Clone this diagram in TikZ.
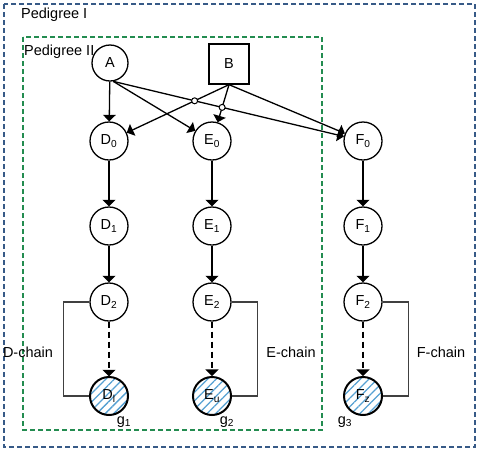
\documentclass[tikz,border=0pt]{standalone}
\usepackage{fontspec}
\setmainfont{Liberation Sans}
\usetikzlibrary{arrows,patterns.meta,intersections}
\definecolor{rahmenblau}{RGB}{55,90,135}
\definecolor{rahmengruen}{RGB}{35,140,80}
\definecolor{schraffur}{RGB}{85,160,210}
\tikzstyle{knoten}=[circle,draw,line width=1.3pt,minimum size=38pt,inner sep=0pt]
\tikzstyle{endknoten}=[knoten,line width=2pt,pattern={Lines[angle=45,distance=6pt,line width=1.3pt]},pattern color=schraffur]
\tikzstyle{pfeil}=[-triangle 90,line width=1.3pt]
\tikzstyle{strichpfeil}=[pfeil,dash pattern=on 6pt off 4pt]
\tikzstyle{klammer}=[line width=1.3pt,draw=black!75]
\tikzstyle{rahmen}=[line width=1.4pt,dash pattern=on 5pt off 3pt]

\begin{document}
\begin{tikzpicture}[x=1pt,y=-1pt,font=\fontsize{14.5}{17}\selectfont]
			\useasboundingbox (0,0) rectangle (478,451);
			% Rahmen zeichnen
			\draw[rahmen,draw=rahmenblau] (4,4) rectangle (475,447);
			\draw[rahmen,draw=rahmengruen] (23,37) rectangle (322,430);
			\node[anchor=west,inner sep=0] (ped1) at (21,15) {Pedigree I};
			\node[anchor=west,inner sep=0] (ped2) at (24,52) {Pedigree II};
			% Eltern zeichnen
			\node[knoten,minimum size=36pt,fill=white] (A) at (110,63) {A};
			\node[draw,line width=1.3pt,minimum size=40pt,inner sep=0] (B) at (229,64) {B};
			% Ketten zeichnen
			\node[knoten] (D0) at (109,141) {D\textsubscript{0}};
			\node[knoten] (E0) at (212,141) {E\textsubscript{0}};
			\node[knoten] (F0) at (363,141) {F\textsubscript{0}};
			\node[knoten] (D1) at (109,226) {D\textsubscript{1}};
			\node[knoten] (E1) at (212,226) {E\textsubscript{1}};
			\node[knoten] (F1) at (363,226) {F\textsubscript{1}};
			\node[knoten] (D2) at (109,302) {D\textsubscript{2}};
			\node[knoten] (E2) at (212,302) {E\textsubscript{2}};
			\node[knoten] (F2) at (363,302) {F\textsubscript{2}};
			\node[endknoten] (Dl) at (109,396) {D\textsubscript{l}};
			\node[endknoten] (Eu) at (212,396) {E\textsubscript{u}};
			\node[endknoten] (Fz) at (363,396) {F\textsubscript{z}};
			% Pfeile von A und B
			\draw[pfeil] (A) -- (D0);
			\draw[pfeil] (A.-80) -- (E0);
			\draw[pfeil,name path=aF] (A.-80) -- (F0);
			\draw[pfeil,name path=bD] (B.south) -- (D0);
			\draw[pfeil,name path=bE] (B.south) -- (E0);
			\draw[pfeil] (B.south) -- (F0);
			% Sprungstellen
			\path[name intersections={of=aF and bD,name=h1}];
			\path[name intersections={of=aF and bE,name=h2}];
			\draw[line width=1pt,fill=white] (h1-1) circle (3pt);
			\draw[line width=1pt,fill=white] (h2-1) circle (3pt);
			% Pfeile in den Ketten
			\foreach \k in {D,E,F}{
				\draw[pfeil] (\k0) -- (\k1);
				\draw[pfeil] (\k1) -- (\k2);
			}
			\draw[strichpfeil] (D2) -- (Dl);
			\draw[strichpfeil] (E2) -- (Eu);
			\draw[strichpfeil] (F2) -- (Fz);
			% Klammern beschriften
			\draw[klammer] (D2.west) -- ++(-26,0) |- (Dl.west);
			\draw[klammer] (E2.east) -- ++(26,0) |- (Eu.east);
			\draw[klammer] (F2.east) -- ++(26,0) |- (Fz.east);
			\node (dkette) at (28,352) {D-chain};
			\node (ekette) at (291,352) {E-chain};
			\node (fkette) at (441,352) {F-chain};
			\node (g1) at (124,422) {g\textsubscript{1}};
			\node (g2) at (227,422) {g\textsubscript{2}};
			\node (g3) at (345,422) {g\textsubscript{3}};
		\end{tikzpicture}
\end{document}
